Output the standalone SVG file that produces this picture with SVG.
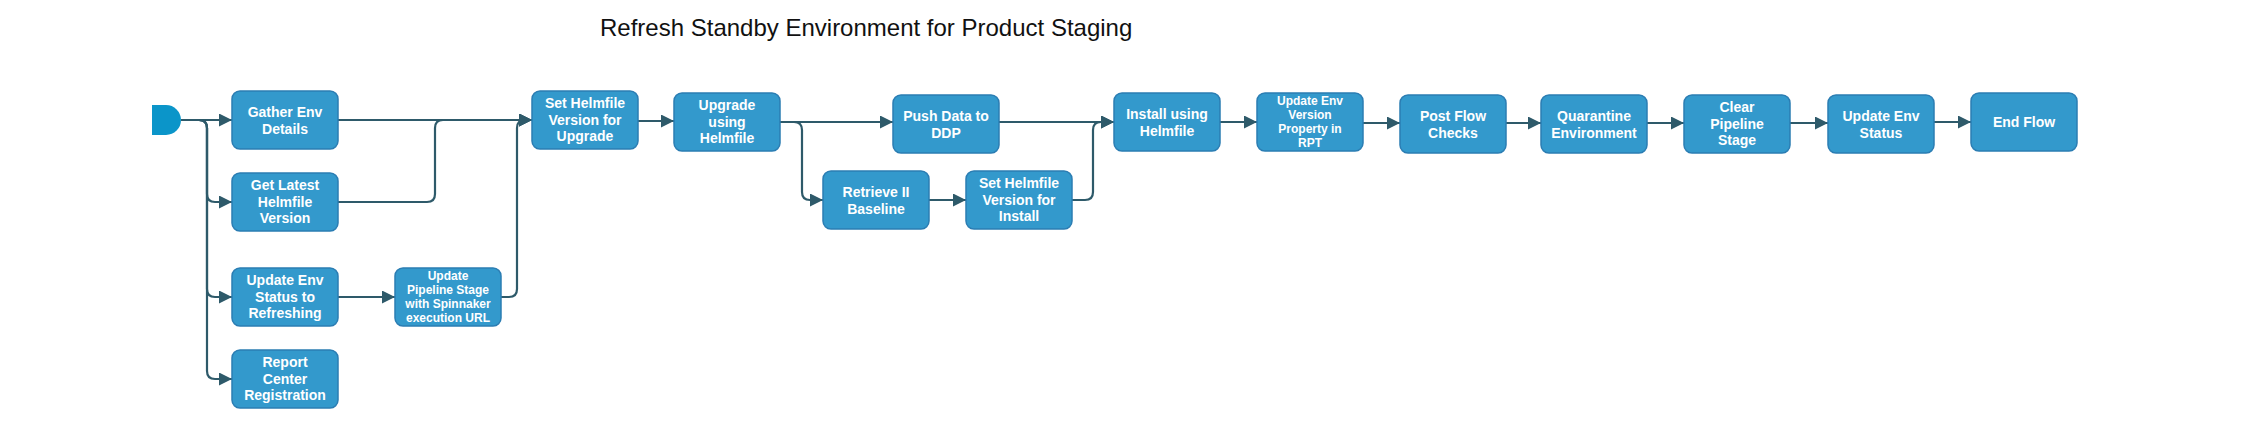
<svg xmlns="http://www.w3.org/2000/svg" width="2251" height="429" viewBox="0 0 2251 429">
<style>
.n rect{fill:#3399cc;stroke:#2b7db3;stroke-width:1.5}
.n text{fill:#ffffff;font-family:"Liberation Sans",Arial,sans-serif;font-weight:bold;font-size:14px;text-anchor:middle}
.n text.s{font-size:12px}
.c path{fill:none;stroke:#2e5a6a;stroke-width:2.2;marker-end:url(#ah)}
.title{font-family:"Liberation Sans",Arial,sans-serif;font-size:24px;fill:#111111}
</style>
<defs>
<marker id="ah" markerUnits="userSpaceOnUse" markerWidth="14" markerHeight="14" refX="13" refY="6.5" orient="auto">
<path d="M0,0 L13,6.5 L0,13 Z" fill="#2e5a6a"/>
</marker>
</defs>
<rect width="2251" height="429" fill="#ffffff"/>
<text class="title" x="600" y="36">Refresh Standby Environment for Product Staging</text>

<g id="connectors" class="c">
<path d="M181,120 H232"/>
<path d="M181,120 H199 Q207,120 207,128 V194 Q207,202 215,202 H232"/>
<path d="M181,120 H199 Q207,120 207,128 V289 Q207,297 215,297 H232"/>
<path d="M181,120 H199 Q207,120 207,128 V371 Q207,379 215,379 H232"/>
<path d="M338,120 H532"/>
<path d="M338,202 H427 Q435,202 435,194 V128 Q435,120 443,120 H532"/>
<path d="M338,297 H395"/>
<path d="M501,297 H509 Q517,297 517,289 V128 Q517,120 525,120 H532"/>
<path d="M638,121 H674"/>
<path d="M780,122 H893"/>
<path d="M780,122 H794 Q802,122 802,130 V192 Q802,200 810,200 H823"/>
<path d="M929,200 H966"/>
<path d="M1072,200 H1085 Q1093,200 1093,192 V130 Q1093,122 1101,122 H1114"/>
<path d="M999,122 H1114"/>
<path d="M1220,122 H1257"/>
<path d="M1363,123 H1400"/>
<path d="M1506,123 H1541"/>
<path d="M1647,123 H1684"/>
<path d="M1790,123 H1828"/>
<path d="M1934,122 H1971"/>
</g>

<g id="start">
<path d="M152,105 H166 A15,15 0 0 1 166,135 H152 Z" fill="#0b95c9"/>
</g>

<g id="gather-env-details" class="n">
<rect x="232" y="91" width="106" height="58" rx="8"/>
<text x="285" y="117">Gather Env</text>
<text x="285" y="133.5">Details</text>
</g>
<g id="get-latest-helmfile-version" class="n">
<rect x="232" y="173" width="106" height="58" rx="8"/>
<text x="285" y="190">Get Latest</text>
<text x="285" y="206.5">Helmfile</text>
<text x="285" y="223">Version</text>
</g>
<g id="update-env-status-refreshing" class="n">
<rect x="232" y="268" width="106" height="58" rx="8"/>
<text x="285" y="285">Update Env</text>
<text x="285" y="301.5">Status to</text>
<text x="285" y="318">Refreshing</text>
</g>
<g id="report-center-registration" class="n">
<rect x="232" y="350" width="106" height="58" rx="8"/>
<text x="285" y="367">Report</text>
<text x="285" y="383.5">Center</text>
<text x="285" y="400">Registration</text>
</g>
<g id="update-pipeline-stage" class="n">
<rect x="395" y="268" width="106" height="58" rx="8"/>
<text class="s" x="448" y="280">Update</text>
<text class="s" x="448" y="294">Pipeline Stage</text>
<text class="s" x="448" y="308">with Spinnaker</text>
<text class="s" x="448" y="322">execution URL</text>
</g>
<g id="set-helmfile-version-upgrade" class="n">
<rect x="532" y="91" width="106" height="58" rx="8"/>
<text x="585" y="108">Set Helmfile</text>
<text x="585" y="124.5">Version for</text>
<text x="585" y="141">Upgrade</text>
</g>
<g id="upgrade-using-helmfile" class="n">
<rect x="674" y="93" width="106" height="58" rx="8"/>
<text x="727" y="110">Upgrade</text>
<text x="727" y="126.5">using</text>
<text x="727" y="143">Helmfile</text>
</g>
<g id="push-data-ddp" class="n">
<rect x="893" y="95" width="106" height="58" rx="8"/>
<text x="946" y="121">Push Data to</text>
<text x="946" y="137.5">DDP</text>
</g>
<g id="retrieve-ii-baseline" class="n">
<rect x="823" y="171" width="106" height="58" rx="8"/>
<text x="876" y="197">Retrieve II</text>
<text x="876" y="213.5">Baseline</text>
</g>
<g id="set-helmfile-version-install" class="n">
<rect x="966" y="171" width="106" height="58" rx="8"/>
<text x="1019" y="188">Set Helmfile</text>
<text x="1019" y="204.5">Version for</text>
<text x="1019" y="221">Install</text>
</g>
<g id="install-using-helmfile" class="n">
<rect x="1114" y="93" width="106" height="58" rx="8"/>
<text x="1167" y="119">Install using</text>
<text x="1167" y="135.5">Helmfile</text>
</g>
<g id="update-env-version-property" class="n">
<rect x="1257" y="93" width="106" height="58" rx="8"/>
<text class="s" x="1310" y="105">Update Env</text>
<text class="s" x="1310" y="119">Version</text>
<text class="s" x="1310" y="133">Property in</text>
<text class="s" x="1310" y="147">RPT</text>
</g>
<g id="post-flow-checks" class="n">
<rect x="1400" y="95" width="106" height="58" rx="8"/>
<text x="1453" y="121">Post Flow</text>
<text x="1453" y="137.5">Checks</text>
</g>
<g id="quarantine-environment" class="n">
<rect x="1541" y="95" width="106" height="58" rx="8"/>
<text x="1594" y="121">Quarantine</text>
<text x="1594" y="137.5">Environment</text>
</g>
<g id="clear-pipeline-stage" class="n">
<rect x="1684" y="95" width="106" height="58" rx="8"/>
<text x="1737" y="112">Clear</text>
<text x="1737" y="128.5">Pipeline</text>
<text x="1737" y="145">Stage</text>
</g>
<g id="update-env-status" class="n">
<rect x="1828" y="95" width="106" height="58" rx="8"/>
<text x="1881" y="121">Update Env</text>
<text x="1881" y="137.5">Status</text>
</g>
<g id="end-flow" class="n">
<rect x="1971" y="93" width="106" height="58" rx="8"/>
<text x="2024" y="127">End Flow</text>
</g>
</svg>
